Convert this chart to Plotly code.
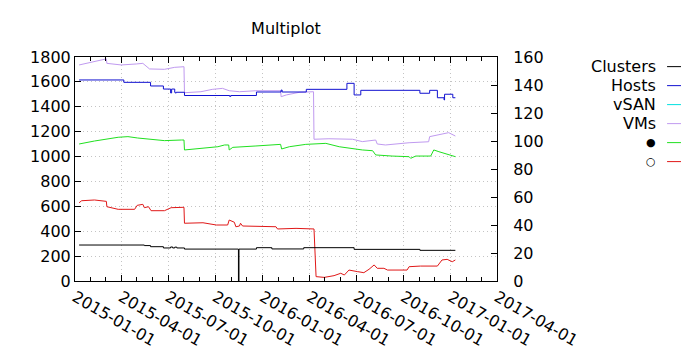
import plotly.graph_objects as go

# ---- data -------------------------------------------------------------
cluster_dates = ["2015-01-09", "2015-05-16", "2015-05-28", "2015-06-22", "2015-07-06",
                 "2015-07-10", "2015-07-14", "2015-07-18", "2015-08-02", "2015-11-15",
                 "2015-11-16", "2015-12-20", "2016-01-19", "2016-03-21", "2016-06-27",
                 "2016-11-02", "2017-01-10"]
cluster_vals = [25.7, 25.3, 24.5, 23.6, 24.3, 23.6, 24.2, 23.6, 22.8, 0,
                22.8, 23.8, 22.9, 23.8, 22.6, 21.9, 21.9]

host_dates = ["2015-01-09", "2015-04-06", "2015-05-28", "2015-06-22", "2015-07-06",
              "2015-07-08", "2015-07-14", "2015-07-15", "2015-07-17", "2015-08-02",
              "2015-10-29", "2015-10-31", "2015-12-20", "2016-02-06", "2016-02-08",
              "2016-03-26", "2016-06-13", "2016-06-27", "2016-07-10", "2016-11-02",
              "2016-11-21", "2016-12-06", "2016-12-19", "2016-12-20", "2017-01-05",
              "2017-01-10"]
host_vals = [143.6, 141.9, 139.3, 137.1, 134.3, 137.1, 134.8, 134.3, 134.8, 132.5,
             131.8, 132.5, 135.0, 136.4, 135.0, 136.9, 141.2, 132.9, 136.2, 134.1,
             136.2, 130.9, 129.3, 133.4, 130.9, 130.9]

vsan_dates = []
vsan_vals = []

vm_dates = ["2015-01-09", "2015-01-25", "2015-02-20", "2015-03-03", "2015-03-04",
            "2015-04-01", "2015-04-30", "2015-05-13", "2015-05-26", "2015-06-24",
            "2015-07-14", "2015-07-30", "2015-08-01", "2015-08-02", "2015-09-03",
            "2015-09-25", "2015-10-15", "2015-10-28", "2015-11-17", "2015-12-19",
            "2016-02-05", "2016-02-06", "2016-02-16", "2016-03-12", "2016-04-07",
            "2016-04-09", "2016-04-10", "2016-05-09", "2016-06-24", "2016-07-13",
            "2016-08-08", "2016-08-11", "2016-08-27", "2016-10-12", "2016-11-19",
            "2016-11-21", "2016-12-28", "2017-01-10"]
vm_vals = [1736, 1750, 1772, 1785, 1749,
           1736, 1744, 1749, 1704, 1701,
           1717, 1722, 1722, 1513, 1521,
           1540, 1548, 1529, 1521, 1529,
           1529, 1481, 1495, 1516, 1521,
           1521, 1139, 1143, 1139, 1120,
           1133, 1101, 1093, 1111, 1119,
           1160, 1192, 1165]

on_dates = ["2015-01-09", "2015-02-08", "2015-03-26", "2015-04-14", "2015-05-03",
            "2015-05-29", "2015-06-24", "2015-07-27", "2015-08-01", "2015-08-02",
            "2015-09-03", "2015-10-06", "2015-10-19", "2015-10-27", "2015-10-28",
            "2015-11-04", "2015-12-19", "2016-02-05", "2016-02-07", "2016-02-22",
            "2016-03-25", "2016-05-03", "2016-05-29", "2016-06-24", "2016-07-13",
            "2016-08-02", "2016-08-08", "2016-09-09", "2016-10-12", "2016-10-15",
            "2016-10-25", "2016-11-23", "2016-11-29", "2016-12-09", "2016-12-22",
            "2017-01-01", "2017-01-10"]
on_vals = [1101, 1125, 1155, 1160, 1149,
           1139, 1128, 1133, 1133, 1053,
           1066, 1079, 1093, 1093, 1053,
           1074, 1085, 1098, 1061, 1079,
           1098, 1106, 1079, 1061, 1053,
           1047, 1013, 1004, 999, 986,
           1004, 1004, 1053, 1039, 1021,
           1013, 999]

off_dates = ["2015-01-09", "2015-01-14", "2015-02-08", "2015-03-03", "2015-03-04",
             "2015-03-26", "2015-04-27", "2015-05-02", "2015-05-13", "2015-05-16",
             "2015-05-24", "2015-05-29", "2015-06-24", "2015-07-07", "2015-07-30",
             "2015-08-01", "2015-08-02", "2015-09-07", "2015-10-03", "2015-10-25",
             "2015-10-28", "2015-11-07", "2015-11-10", "2015-11-17", "2015-11-19",
             "2015-11-23", "2016-01-27", "2016-01-30", "2016-03-06", "2016-04-07",
             "2016-04-10", "2016-04-14", "2016-04-30", "2016-05-19", "2016-06-01",
             "2016-06-08", "2016-06-17", "2016-07-04", "2016-07-16", "2016-07-26",
             "2016-08-05", "2016-08-11", "2016-08-24", "2016-08-31", "2016-10-08",
             "2016-10-12", "2016-11-03", "2016-12-06", "2016-12-15", "2016-12-25",
             "2017-01-04", "2017-01-10"]
off_vals = [629, 645, 651, 640, 597,
            576, 576, 608, 616, 589,
            597, 565, 565, 589, 592,
            592, 464, 468, 450, 450,
            490, 472, 436, 442, 464,
            442, 436, 418, 423, 418,
            418, 35, 29, 43, 62,
            48, 88, 75, 67, 94,
            129, 102, 102, 88, 88,
            115, 120, 120, 169, 174,
            155, 169]

legend_labels = ["Clusters", "Hosts", "vSAN", "VMs", "●", "○"]
x_ticks = ["2015-01-01", "2015-04-01", "2015-07-01", "2015-10-01", "2016-01-01",
           "2016-04-01", "2016-07-01", "2016-10-01", "2017-01-01", "2017-04-01"]

# ---- styling ----------------------------------------------------------
FONT = "DejaVu Sans"
colors = ["#000000", "#1010d0", "#00e0e0", "#c09af0", "#20e020", "#e01818"]
GRID = dict(showgrid=True, gridcolor="#c4c4c4", griddash="1px,3px", gridwidth=1)

series = [
    (cluster_dates, cluster_vals, "y2", "hv"),
    (host_dates, host_vals, "y2", "hv"),
    (vsan_dates, vsan_vals, "y", "linear"),
    (vm_dates, vm_vals, "y", "linear"),
    (on_dates, on_vals, "y", "linear"),
    (off_dates, off_vals, "y", "linear"),
]

fig = go.Figure()
for (xs, ys, yax, shape), name, col in zip(series, legend_labels, colors):
    fig.add_trace(go.Scatter(x=xs, y=ys, yaxis=yax, mode="lines", name=name,
                             line=dict(color=col, width=1, shape=shape),
                             showlegend=False))

# key on the right: label text followed by a short line sample
key_top = 0.957
key_step = 0.0848
for i, (name, col) in enumerate(zip(legend_labels, colors)):
    yk = key_top - i * key_step
    is_symbol = name in ("●", "○")
    fig.add_annotation(xref="paper", yref="paper", x=1.381, y=yk, text=name,
                       showarrow=False, xanchor="right", yanchor="middle",
                       font=dict(family=FONT, size=11 if is_symbol else 16,
                                 color="#000000"))
    fig.add_shape(type="line", xref="paper", yref="paper",
                  x0=1.403, x1=1.436, y0=yk, y1=yk,
                  line=dict(color=col, width=1))

axis_common = dict(showline=True, linecolor="#000000", linewidth=1,
                   ticks="inside", tickcolor="#000000", automargin=False,
                   tickfont=dict(family=FONT, size=16, color="#000000"),
                   zeroline=False)

fig.update_layout(
    width=700, height=350,
    margin=dict(l=75, r=203, t=57, b=69, autoexpand=False),
    paper_bgcolor="#ffffff", plot_bgcolor="#ffffff",
    font=dict(family=FONT, size=16, color="#000000"),
    title=dict(text="Multiplot", x=0.5, xref="paper", xanchor="center",
               y=1 - 28 / 350, yref="container", yanchor="middle",
               font=dict(family=FONT, size=16, color="#000000")),
    xaxis=dict(type="date", range=["2015-01-01", "2017-04-01"],
               tickvals=x_ticks, ticktext=x_ticks, tickangle=30,
               ticklen=6, mirror="ticks",
               minor=dict(dtick="M1", tick0="2015-01-01", ticks="inside",
                          ticklen=4, tickcolor="#000000", showgrid=False),
               **GRID, **axis_common),
    yaxis=dict(range=[0, 1800], dtick=200, ticklen=6, mirror=True,
               **GRID, **axis_common),
    yaxis2=dict(range=[0, 160], dtick=20, ticklen=6, overlaying="y", side="right",
                showgrid=False, ticklabelstandoff=12, **axis_common),
)

fig.write_html("out.html")
